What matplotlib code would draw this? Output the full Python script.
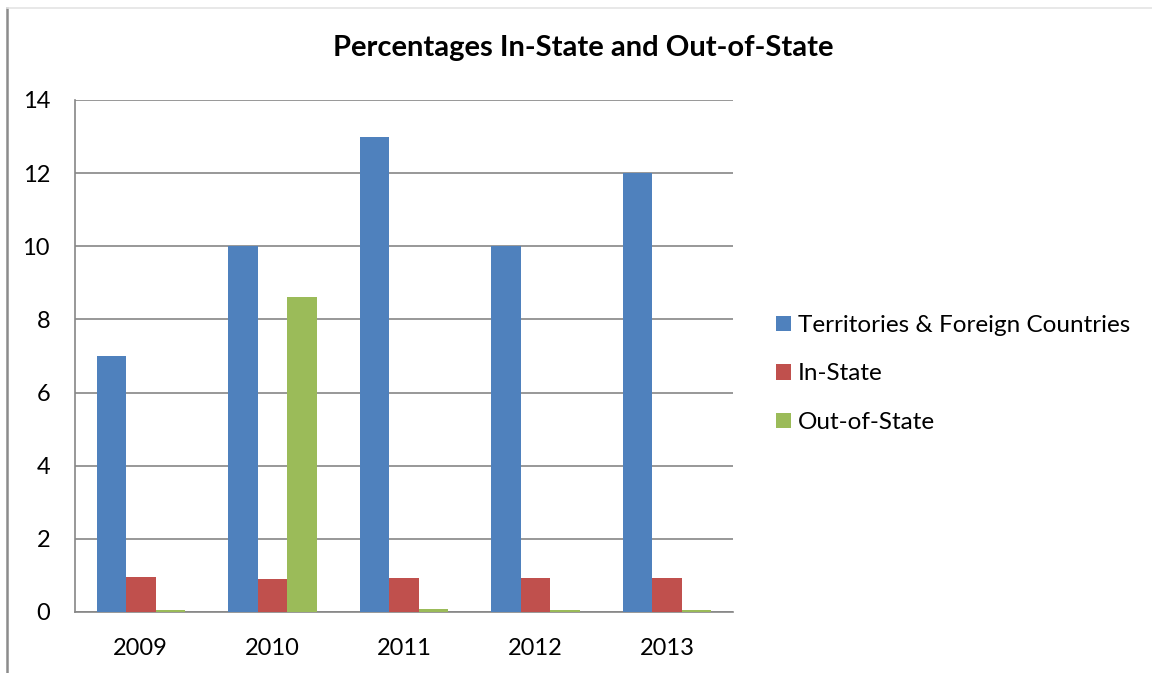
import matplotlib.pyplot as plt
import numpy as np
from matplotlib.lines import Line2D

plt.rcParams['font.family'] = ['Lato', 'DejaVu Sans']

years = ['2009', '2010', '2011', '2012', '2013']
territories = [7, 10, 13, 10, 12]
in_state = [0.95, 0.90, 0.92, 0.93, 0.93]
out_state = [0.05, 8.6, 0.07, 0.06, 0.06]

names = ['Territories & Foreign Countries', 'In-State', 'Out-of-State']
colors = ['#4f81bd', '#c0504d', '#9bbb59']

fig = plt.figure(figsize=(11.52, 6.73), dpi=100)
ax = fig.add_axes([75 / 1152, 1 - 612 / 673, 658 / 1152, 512 / 673])

x = np.arange(len(years))
w = 0.224
for i, (vals, name, c) in enumerate(zip([territories, in_state, out_state], names, colors)):
    ax.bar(x + (i - 1) * w, vals, w, color=c, label=name, zorder=3)

ax.set_xlim(-0.5, 4.5)
ax.set_ylim(0, 14)
ax.set_yticks(range(0, 15, 2))
ax.set_xticks(x)
ax.set_xticklabels(years)
ax.tick_params(axis='both', length=0, labelsize=17)
ax.tick_params(axis='y', pad=18)
ax.tick_params(axis='x', pad=19)
ax.grid(axis='y', color='#868686', linewidth=1.2, zorder=0)
for s in ['top', 'right']:
    ax.spines[s].set_visible(False)
for s in ['left', 'bottom']:
    ax.spines[s].set_color('#868686')
    ax.spines[s].set_linewidth(1.2)

fig.text(583 / 1152, 1 - 48 / 673, 'Percentages In-State and Out-of-State',
         ha='center', va='center', fontsize=21, fontweight='bold')

ax.legend(loc='center left', bbox_to_anchor=(776 / 1152, 1 - 374 / 673),
          bbox_transform=fig.transFigure, frameon=False, fontsize=17.5,
          handlelength=0.6, handleheight=0.6, handletextpad=0.3, labelspacing=1.13,
          borderpad=0, borderaxespad=0)

# outer frame lines
fig.add_artist(Line2D([7 / 1152, 7 / 1152], [0, 1 - 8 / 673], transform=fig.transFigure,
                      color='#8c8c8c', linewidth=1.8))
fig.add_artist(Line2D([7 / 1152, 1], [1 - 8 / 673, 1 - 8 / 673], transform=fig.transFigure,
                      color='#e4e4e4', linewidth=1.2))

fig.savefig('out.png', dpi=100)
